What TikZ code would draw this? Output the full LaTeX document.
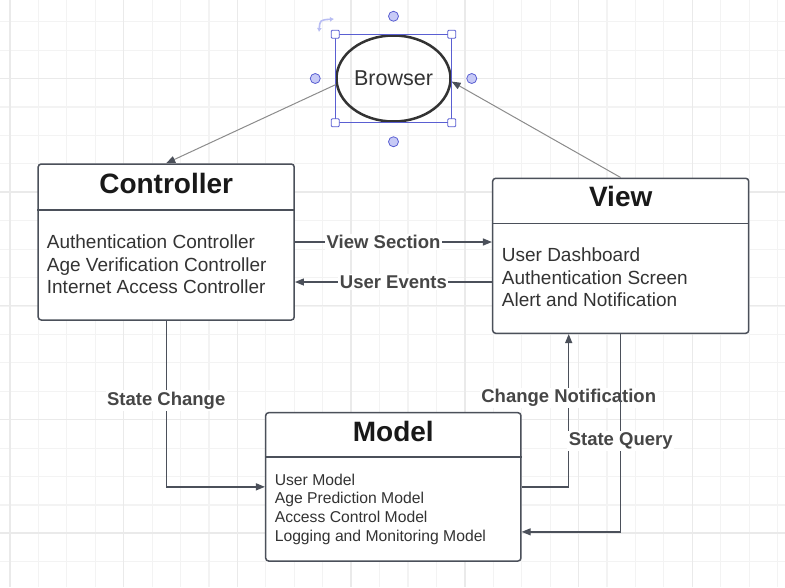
\documentclass[tikz,border=0pt]{standalone}
\usepackage{fontspec}
\setmainfont{Liberation Sans}
\usetikzlibrary{arrows.meta,shapes.geometric}

\definecolor{gridminor}{HTML}{F3F3F3}
\definecolor{gridmajor}{HTML}{EAEAEA}
\definecolor{linegray}{HTML}{4B505A}
\definecolor{lightline}{HTML}{8C8C8C}
\definecolor{selblue}{HTML}{5A5FD2}
\definecolor{knobfill}{HTML}{C7CAF6}
\definecolor{rotblue}{HTML}{B8BDF3}
\definecolor{labelgray}{HTML}{464646}
\definecolor{textgray}{HTML}{333333}

\tikzset{
  box/.style={draw=linegray, line width=1.5pt, rounded corners=3pt, fill=white, inner sep=0pt},
  boxtitle/.style={font=\bfseries\fontsize{28}{30}\selectfont, text=black!90},
  boxbody/.style={font=\fontsize{19}{22.5}\selectfont, text=textgray, align=left, anchor=west, inner sep=0pt},
  smallbody/.style={boxbody, font=\fontsize{15.7}{18.9}\selectfont},
  divider/.style={draw=linegray, line width=1.5pt},
  conn/.style={draw=linegray, line width=1.3pt, -{Triangle[length=9pt,width=7pt]}},
  thinconn/.style={draw=lightline, line width=1pt, -{Triangle[length=9pt,width=7pt,color=linegray]}},
  lbl/.style={fill=white, text=labelgray, font=\bfseries\fontsize{18.5}{20}\selectfont, inner sep=1.5pt},
  handle/.style={draw=selblue, fill=white, line width=0.8pt, minimum size=8pt, inner sep=0pt, rounded corners=1pt},
  knob/.style={circle, draw=selblue, fill=knobfill, line width=0.8pt, minimum size=10pt, inner sep=0pt},
}

\begin{document}
\begin{tikzpicture}[x=1pt,y=-1pt]
    % Canvas:
    % white page with the light grid of the drawing tool
    \fill [white] (0,0) rectangle (785,587);
    \useasboundingbox (0,0) rectangle (785,587);
    \foreach \i in {0,...,27}
        \draw [gridminor, line width=1.2pt] ({10+\i*28.43},0) -- ({10+\i*28.43},587);
    \foreach \j in {0,...,19}
        \draw [gridminor, line width=1.2pt] (0,{21.7+\j*28.43}) -- (785,{21.7+\j*28.43});
    \foreach \i in {0,...,6}
        \draw [gridmajor, line width=1.5pt] ({10+\i*113.72},0) -- ({10+\i*113.72},587);
    \foreach \j in {0,...,4}
        \draw [gridmajor, line width=1.5pt] (0,{78.3+\j*113.72}) -- (785,{78.3+\j*113.72});

    % Browser:
    % the ellipse is still selected, so the blue frame and handles are shown
    \node [ellipse, draw=textgray, line width=2.5pt, minimum width=114pt, minimum height=86pt, inner sep=0pt,
           font=\fontsize{21.5}{24}\selectfont, text=textgray] (brw) at (393.5,78.5) {Browser};
    \coordinate (selnw) at (brw.west |- brw.north);
    \coordinate (selne) at (brw.east |- brw.north);
    \coordinate (selsw) at (brw.west |- brw.south);
    \coordinate (selse) at (brw.east |- brw.south);
    \draw [selblue, line width=0.8pt] (selnw) rectangle (selse);
    \foreach \c in {selnw,selne,selsw,selse}
        \node [handle] at (\c) {};
    \node [knob] (knobn) at ([yshift=18pt]brw.north) {};
    \node [knob] (knobs) at ([yshift=-19pt]brw.south) {};
    \node [knob] (knobw) at ([xshift=-20pt]brw.west) {};
    \node [knob] (knobe) at ([xshift=20pt]brw.east) {};
    \draw [rotblue, line width=1.6pt, {Latex[length=4pt,width=5pt]}-{Latex[length=4pt,width=5pt]}]
        (319,32) .. controls (320,20) .. (334,19);

    % Controller:
    \node [box, minimum width=256pt, minimum height=156pt] (ctrl) at (166.2,242) {};
    \node [boxtitle] (ctrltitle) at (ctrl.center |- 0,183) {Controller};
    \draw [divider] (ctrl.west |- 0,210) -- (ctrl.east |- 0,210);
    \node [boxbody] (ctrlbody) at (46.7,264.4)
        {Authentication Controller\\Age Verification Controller\\Internet Access Controller};

    % View:
    \node [box, minimum width=256pt, minimum height=155pt] (view) at (620.7,255.8) {};
    \node [boxtitle] (viewtitle) at (view.center |- 0,196.7) {View};
    \draw [divider] (view.west |- 0,223.3) -- (view.east |- 0,223.3);
    \node [boxbody] (viewbody) at (501.7,277.7)
        {User Dashboard\\Authentication Screen\\Alert and Notification};

    % Model:
    \node [box, minimum width=255.3pt, minimum height=148.3pt] (mdl) at (393.3,486.85) {};
    \node [boxtitle] (mdltitle) at (mdl.center |- 0,431.7) {Model};
    \draw [divider] (mdl.west |- 0,457) -- (mdl.east |- 0,457);
    \node [smallbody] (mdlbody) at (274.6,509.3)
        {User Model\\Age Prediction Model\\Access Control Model\\Logging and Monitoring Model};

    % Connectors:
    % thin grey ones to and from the browser, labelled ones between the boxes
    \draw [thinconn] (brw.186) -- (ctrl.north);
    \draw [thinconn] (view.north) -- (brw.-3);
    \draw [conn] (ctrl.east) -- node [lbl, pos=0.45] {View Section} (view.west |- ctrl.east);
    \draw [conn] (view.west |- 0,282) -- node [lbl] {User Events} (ctrl.east |- 0,282);
    \draw [conn] (ctrl.south) -- node [lbl, pos=0.48] {State Change} (ctrl.south |- mdl.west) -- (mdl.west);
    \draw [conn] (mdl.east) -| node [lbl, pos=0.79] {Change Notification} ([xshift=-52pt]view.south);
    \draw [conn] (view.south) |- node [lbl, pos=0.27] {State Query} ([yshift=-45pt]mdl.east);
\end{tikzpicture}
\end{document}
